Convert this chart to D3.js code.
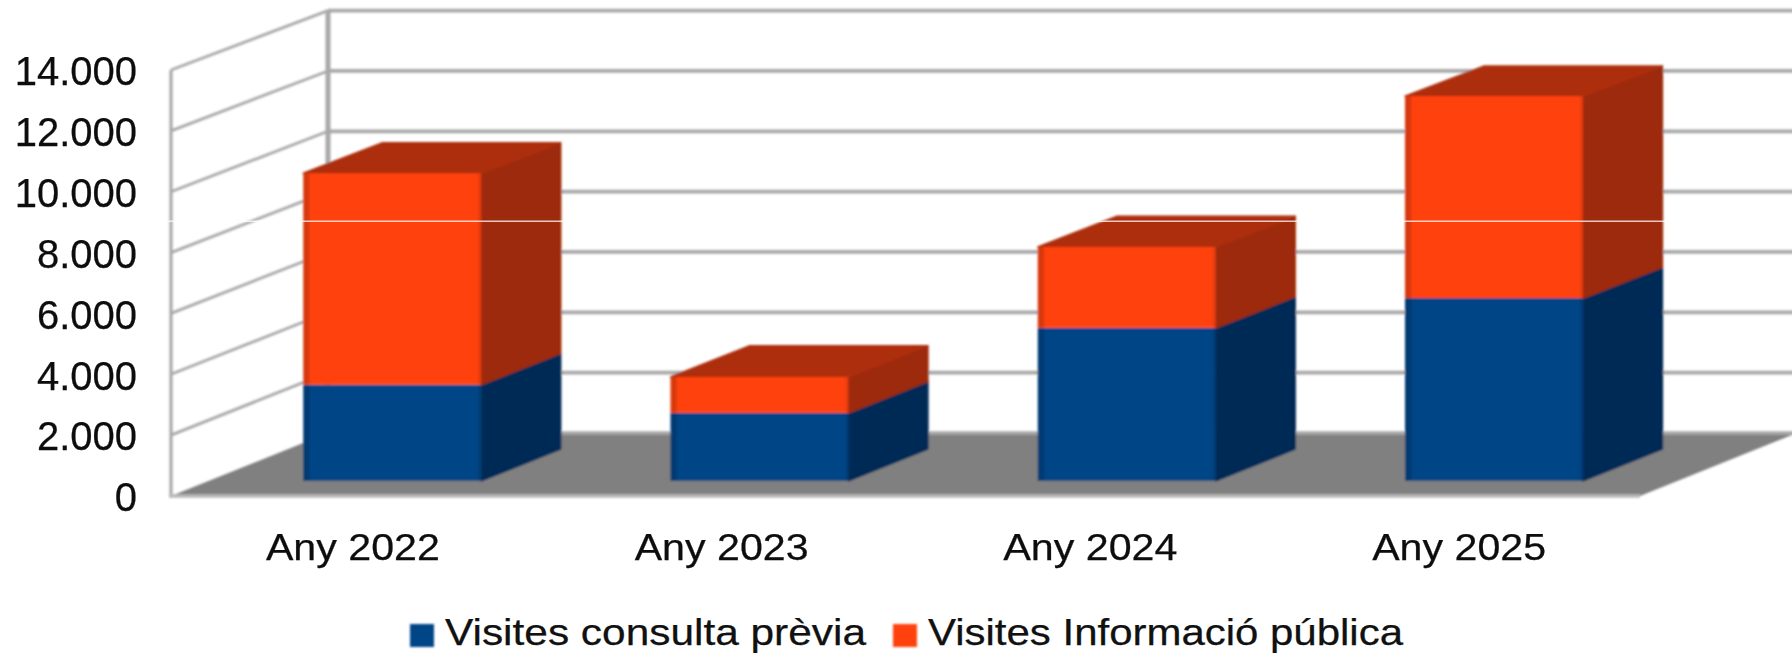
<!DOCTYPE html>
<html><head><meta charset="utf-8">
<script src="https://cdnjs.cloudflare.com/ajax/libs/d3/7.8.5/d3.min.js"></script>
<style>html,body{margin:0;padding:0;background:#fff;overflow:hidden}svg{display:block}text{font-family:"Liberation Sans",Arial,sans-serif;fill:#111;stroke:#111;stroke-width:.25px}</style>
</head><body><svg id="c" width="1792" height="653"></svg>
<script>
const categories = ["Any 2022","Any 2023","Any 2024","Any 2025"];
const seriesNames = ["Visites consulta prèvia","Visites Informació pública"];
const consultaPrevia = [3170,2240,5040,6020];
const informacioPublica = [6960,1180,2660,6650];
const yTicks = [0,2000,4000,6000,8000,10000,12000,14000];
const frontColors = ["#004586","#ff420e"];
const edgeColors = ["#003a72","#d8380a"];
const sideColors = ["#002b56","#9e2a07"];
const topColors = ["#00346a","#ad2f09"];

const svg = d3.select("#c");
const x = d3.scaleBand().domain(categories).range([171,1640]).paddingInner(0.515).paddingOuter(0.2575);
const xLab = d3.scaleBand().domain(categories).range([168.5,1643.5]);
const yFront = d3.scaleLinear().domain([0,14000]).range([496,70]);
const yBack  = d3.scaleLinear().domain([0,14000]).range([433,10.6]);
const depthX = d3.scaleLinear().domain([0,1]).range([0,157]);
const P = (px,v,d)=>[px+depthX(d), yFront(v)+(yBack(v)-yFront(v))*d];
const poly = pts=>pts.map(p=>p.join(",")).join(" ");
const nearD=.24, farD=.745;
const fmt = d3.formatLocale({decimal:",",thousands:".",grouping:[3],currency:["","€"]}).format(",d");

const defs = svg.append("defs");
defs.append("filter").attr("id","soft").attr("x","-5%").attr("y","-5%").attr("width","110%").attr("height","110%")
  .append("feGaussianBlur").attr("stdDeviation",0.9);
defs.append("filter").attr("id","softText").attr("x","-5%").attr("y","-20%").attr("width","110%").attr("height","140%")
  .append("feGaussianBlur").attr("stdDeviation",0.45);
frontColors.forEach((c,i)=>{
  const g = defs.append("linearGradient").attr("id","front"+i);
  [[0,edgeColors[i]],[.03,edgeColors[i]],[.04,c],[.975,c],[1,edgeColors[i]]].forEach(s=>g.append("stop").attr("offset",s[0]).attr("stop-color",s[1]));
});

const marks = svg.append("g").attr("filter","url(#soft)");
const x0=x.range()[0], x1=x.range()[1];
marks.append("polygon").attr("points",poly([P(x0,0,0),P(x1,0,0),P(x1,0,1),P(x0,0,1)])).attr("fill","#808080");
const grid = marks.append("g").attr("stroke","#a8a8a8").attr("fill","none");
yTicks.forEach(t=>{
  const a=P(x0,t,0), b=P(x0,t,1), c=P(x1,t,1);
  if(t>0){
    grid.append("line").attr("x1",a[0]).attr("y1",a[1]).attr("x2",b[0]).attr("y2",b[1]).attr("stroke-width",2.8);
  }
  grid.append("line").attr("x1",b[0]).attr("y1",b[1]).attr("x2",c[0]).attr("y2",c[1]).attr("stroke-width",t>0?3.8:3.4);
});
const topV=yTicks[yTicks.length-1];
grid.append("line").attr("x1",P(x0,0,0)[0]).attr("y1",P(x0,0,0)[1]).attr("x2",P(x0,topV,0)[0]).attr("y2",P(x0,topV,0)[1]).attr("stroke-width",3.2);
grid.append("line").attr("x1",P(x0,0,1)[0]).attr("y1",P(x0,0,1)[1]).attr("x2",P(x0,topV,1)[0]).attr("y2",P(x0,topV,1)[1]).attr("stroke-width",5);
grid.append("line").attr("x1",P(x0,0,0)[0]-2).attr("y1",P(x0,0,0)[1]).attr("x2",P(x1,0,0)[0]).attr("y2",P(x1,0,0)[1]).attr("stroke-width",3.6).attr("stroke","#b8b8b8");
categories.forEach((cat,i)=>{
  const l=x(cat), r=l+x.bandwidth();
  let base=0;
  [consultaPrevia[i],informacioPublica[i]].forEach((v,s)=>{
    const t=base+v;
    const g=marks.append("g").attr("stroke-linejoin","round");
    g.append("polygon").attr("points",poly([P(r,base,nearD),P(r,base,farD),P(r,t,farD),P(r,t,nearD)])).attr("fill",sideColors[s]).attr("stroke",sideColors[s]).attr("stroke-width",1.5);
    if(s===1) g.append("polygon").attr("points",poly([P(l,t,nearD),P(r,t,nearD),P(r,t,farD),P(l,t,farD)])).attr("fill",topColors[s]).attr("stroke",topColors[s]).attr("stroke-width",1.5);
    const a=P(l,t,nearD), b=P(r,base,nearD);
    g.append("rect").attr("x",a[0]).attr("y",a[1]).attr("width",b[0]-a[0]).attr("height",b[1]-a[1]).attr("fill","url(#front"+s+")");
    base=t;
  });
});
const seam=yFront(9030);
svg.append("line").attr("x1",168).attr("x2",x1+26).attr("y1",seam).attr("y2",seam).attr("stroke","#fff").attr("stroke-opacity",.75).attr("stroke-width",1.3);

const labels=svg.append("g");
const yAxis=labels.append("g").attr("filter","url(#softText)").attr("transform","translate(137,2)")
  .call(d3.axisLeft(yFront).tickValues(yTicks).tickFormat(fmt).tickSize(0).tickPadding(0));
yAxis.select(".domain").remove();
yAxis.attr("fill",null).selectAll("text").attr("font-size",40).attr("font-family",null);
const xLabels=labels.append("g").attr("filter","url(#softText)").attr("transform","translate(0,547)")
  .call(d3.axisBottom(xLab).tickSize(0).tickPadding(0));
xLabels.select(".domain").remove();
xLabels.selectAll("text").attr("font-size",36).attr("dy",".35em").attr("y",0).attr("font-family",null)
  .attr("textLength",174).attr("lengthAdjust","spacingAndGlyphs");
const legX=[410,893], legLen=[421,475];
seriesNames.forEach((n,i)=>{
  svg.append("rect").attr("x",legX[i]).attr("y",624).attr("width",24).attr("height",23).attr("fill",frontColors[i]).attr("filter","url(#soft)");
  labels.append("text").attr("x",legX[i]+35).attr("y",645).attr("font-size",36).attr("textLength",legLen[i]).attr("lengthAdjust","spacingAndGlyphs").text(n);
});
</script></body></html>
